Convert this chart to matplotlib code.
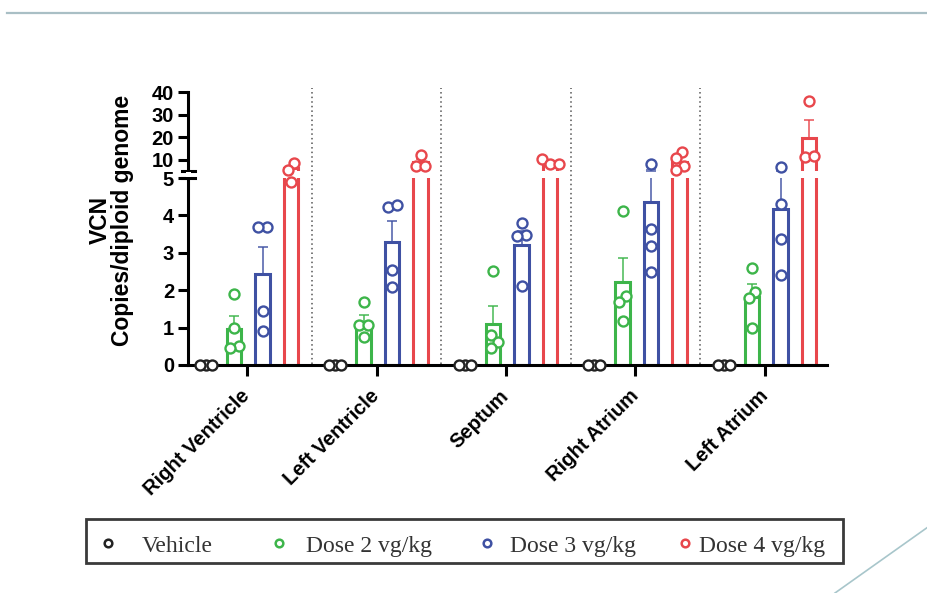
import numpy as np
import matplotlib.pyplot as plt
from matplotlib.lines import Line2D
from matplotlib.patches import Rectangle
from matplotlib.transforms import blended_transform_factory

plt.rcParams['font.family'] = ['Liberation Sans', 'DejaVu Sans']

tissues = ['Right Ventricle', 'Left Ventricle', 'Septum', 'Right Atrium', 'Left Atrium']
groups = ['Vehicle', 'Dose 2 vg/kg', 'Dose 3 vg/kg', 'Dose 4 vg/kg']

# VCN per animal (copies/diploid genome)
vehicle = [[0, 0, 0], [0, 0, 0], [0, 0, 0], [0, 0, 0], [0, 0, 0]]
dose2 = [[1.9, 1.0, 0.5, 0.45],
         [1.69, 1.07, 1.07, 0.76],
         [2.52, 0.80, 0.62, 0.46],
         [4.12, 1.84, 1.69, 1.18],
         [2.6, 1.96, 1.78, 0.98]]
dose3 = [[3.68, 3.68, 1.44, 0.92],
         [4.23, 4.28, 2.54, 2.08],
         [3.79, 3.48, 3.45, 2.12],
         [8.1, 3.64, 3.18, 2.50],
         [6.6, 4.30, 3.36, 2.41]]
dose4 = [[8.5, 5.5, 4.9],
         [12.0, 7.4, 7.4],
         [10.2, 8.0, 8.2],
         [13.6, 10.7, 7.1, 5.4],
         [36.0, 11.0, 11.5]]

series = [vehicle, dose2, dose3, dose4]
colors = ['#222222', '#3db54a', '#3f51a3', '#e8474c']
shift = [-0.32, -0.10, 0.12, 0.34]

W, H = 928, 593
fig = plt.figure(figsize=(W / 100, H / 100), dpi=100)


def box(x0, y0, x1, y1):
    # pixel box (top-left origin) -> figure fraction
    return [x0 / W, 1 - y1 / H, (x1 - x0) / W, (y1 - y0) / H]


ax_lo = fig.add_axes(box(188, 178, 827, 365))
ax_hi = fig.add_axes(box(188, 92, 827, 171))
xlim = (-0.456, 4.479)
px_x = 639 / (xlim[1] - xlim[0])
lo_top, hi_bot, hi_top = 5, 5, 40
lo_h, gap, hi_h = 187, 7, 79


def to_px(v):
    if v <= lo_top:
        return v * lo_h / lo_top
    return lo_h + gap + (v - hi_bot) * hi_h / (hi_top - hi_bot)


def swarm(vals, dmin=9.0):
    # simple beeswarm in pixel space, clusters re-centred afterwards
    ypx = np.array([to_px(v) for v in vals])
    off = np.zeros(len(vals))
    placed = []
    for i in np.argsort(ypx):
        cands = [0.0] + [s * k for k in np.arange(0.5, 40, 0.5) for s in (1, -1)]
        for c in cands:
            if all((c - x) ** 2 + (ypx[i] - y) ** 2 >= dmin ** 2 for x, y, _ in placed):
                break
        placed.append((c, ypx[i], i))
        off[i] = c
    # centre groups of points that sit close together
    order = np.argsort(ypx)
    cluster = [order[0]]
    for a, b in zip(order[:-1], order[1:]):
        if ypx[b] - ypx[a] < dmin:
            cluster.append(b)
        else:
            if len(cluster) > 1:
                off[cluster] -= off[cluster].mean()
            cluster = [b]
    if len(cluster) > 1:
        off[cluster] -= off[cluster].mean()
    return off / px_x


xs = np.arange(len(tissues))
for j, (data, col) in enumerate(zip(series, colors)):
    means = np.array([np.mean(d) for d in data])
    sems = np.array([np.std(d, ddof=1) / np.sqrt(len(d)) for d in data])
    xb = xs + shift[j]
    for ax in (ax_lo, ax_hi):
        ax.bar(xb, means, width=0.11, facecolor='white', edgecolor=col,
               linewidth=2.2, zorder=2)
        if j > 0:
            ax.errorbar(xb, means, yerr=[np.zeros_like(sems), sems], fmt='none',
                        ecolor=col, elinewidth=1.3, capsize=3.3, capthick=1.3,
                        alpha=0.8, zorder=2.5)
    dm = 6.0 if j == 0 else 9.0
    for i, d in enumerate(data):
        d = np.array(d, dtype=float)
        px = xb[i] + swarm(d, dm)
        lo = d <= lo_top
        ax_lo.plot(px[lo], d[lo], 'o', ms=7.2, mfc='white', mec=col, mew=1.7,
                   clip_on=False, zorder=4)
        ax_hi.plot(px[~lo], d[~lo], 'o', ms=7.2, mfc='white', mec=col, mew=1.7,
                   clip_on=False, zorder=4)

for ax in (ax_lo, ax_hi):
    ax.set_xlim(*xlim)
    ax.patch.set_visible(False)
    for s in ('top', 'right'):
        ax.spines[s].set_visible(False)
    ax.spines['left'].set_linewidth(2.2)
    ax.spines['bottom'].set_linewidth(2.2)
    ax.tick_params(axis='y', length=7, width=2.2, pad=3, labelsize=14.5)

ax_lo.set_ylim(0, lo_top)
ax_lo.set_yticks([0, 1, 2, 3, 4, 5])
ax_lo.set_yticklabels(['0', '1', '2', '3', '4', '5'], fontweight='bold')
ax_lo.set_xticks(xs)
ax_lo.set_xticklabels(tissues, rotation=45, ha='right', va='center',
                      rotation_mode='anchor', fontweight='bold', fontsize=14.5)
ax_lo.tick_params(axis='x', length=8, width=2.2, pad=12)

ax_hi.set_ylim(hi_bot, hi_top)
ax_hi.set_yticks([10, 20, 30, 40])
ax_hi.set_yticklabels(['10', '20', '30', '40'], fontweight='bold')
ax_hi.spines['bottom'].set_visible(False)
ax_hi.set_xticks([])

# dotted separators between tissues, spanning both segments
tr = blended_transform_factory(ax_lo.transData, fig.transFigure)
for x in xs[:-1] + 0.5:
    fig.add_artist(Line2D([x, x], [1 - 364 / H, 1 - 88 / H], transform=tr,
                          color='#555555', lw=1.1, ls=(0, (1, 2)), zorder=0.5))

# axis break marks
for yb in (171, 178):
    fig.add_artist(Line2D([182 / W, 195 / W], [1 - yb / H, 1 - yb / H],
                          color='black', lw=2.2))
fig.add_artist(Rectangle((186 / W, 1 - 177 / H), 5 / W, 5 / H,
                         facecolor='white', edgecolor='none', zorder=3))

fig.text(111 / W, 1 - 220 / H, 'VCN\nCopies/diploid genome', rotation=90,
         ha='center', va='center', fontsize=16.5, fontweight='bold',
         linespacing=0.95)

# legend box
fig.add_artist(Rectangle((86 / W, 1 - 563 / H), 757 / W, 44 / H,
                         facecolor='white', edgecolor='#3a3a3a', lw=2.0))
mark_x = [108, 279, 487, 685]
text_x = [142, 306, 510, 699]
for g, col, mx, tx in zip(groups, colors, mark_x, text_x):
    fig.add_artist(Line2D([mx / W], [1 - 543 / H], marker='o', ms=5.5, mfc='white',
                          mec=col, mew=1.8, ls='none'))
    fig.text(tx / W, 1 - 552 / H, g, ha='left', va='baseline', fontsize=17,
             family='Liberation Serif', color='#333333')

# slide decoration
fig.add_artist(Line2D([7 / W, 1], [1 - 13 / H, 1 - 13 / H], color='#a9bfc5', lw=1.6))
fig.add_artist(Line2D([835 / W, 1], [0, 1 - 527 / H], color='#a8c6cb', lw=1.2))

fig.savefig('out.png', dpi=100)
